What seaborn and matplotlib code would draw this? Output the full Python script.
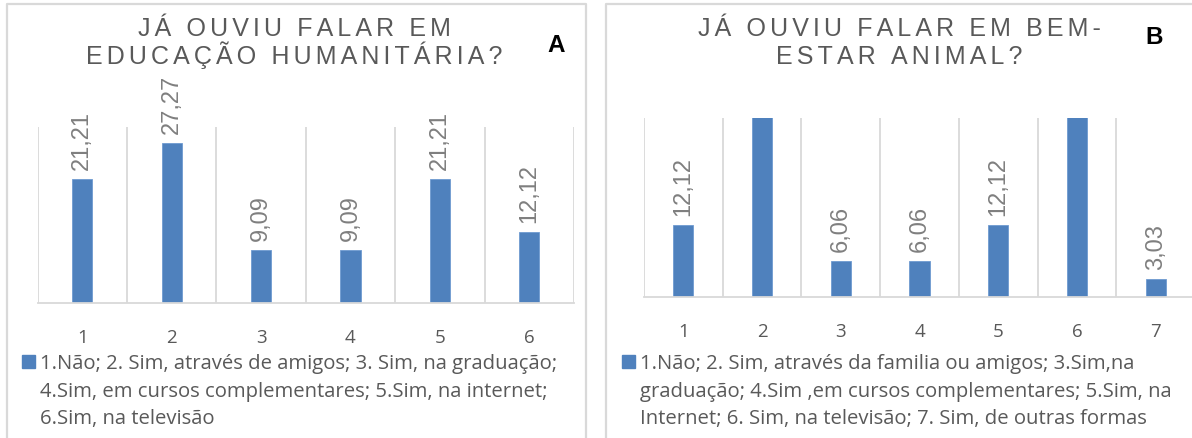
import numpy as np
import pandas as pd
import seaborn as sns
import matplotlib
matplotlib.use("Agg")
import matplotlib.pyplot as plt
from matplotlib.lines import Line2D
from matplotlib.patches import Rectangle

# ---------------- data ----------------
cats_a = ["1", "2", "3", "4", "5", "6"]
vals_a = [21.21, 27.27, 9.09, 9.09, 21.21, 12.12]
title_a = ["JÁ OUVIU FALAR EM", "EDUCAÇÃO HUMANITÁRIA?"]
legend_a = ["1.Não; 2. Sim, através de amigos; 3. Sim, na graduação;",
            "4.Sim, em cursos complementares; 5.Sim, na internet;",
            "6.Sim, na televisão"]

cats_b = ["1", "2", "3", "4", "5", "6", "7"]
vals_b = [12.12, 30.30, 6.06, 6.06, 12.12, 30.30, 3.03]
title_b = ["JÁ OUVIU FALAR EM BEM-", "ESTAR ANIMAL?"]
legend_b = ["1.Não; 2. Sim, através da familia ou amigos; 3.Sim,na",
            "graduação; 4.Sim ,em cursos complementares; 5.Sim, na",
            "Internet; 6. Sim, na televisão; 7. Sim, de outras formas"]

YMAX = 30
BLUE = "#4f81bd"
GRID = "#d9d9d9"
DARK = "#595959"
LBL = "#7f7f7f"
UIFONT = "Open Sans"

W, H = 1192, 439
fig = plt.figure(figsize=(W / 100, H / 100), dpi=100)
fig.patch.set_facecolor("white")


def fx(px):
    return px / W


def fy(py):
    return 1 - py / H


def spaced(s):
    return "\u2006".join(s)


def panel(rect, cats, vals, width):
    ax = fig.add_axes(rect)
    sns.barplot(x=cats, y=vals, color=BLUE, saturation=1, width=width, ax=ax,
                edgecolor="#6f9bd1", linewidth=0.6)
    n = len(cats)
    ax.set_xlim(-0.5, n - 0.5)
    ax.set_ylim(0, YMAX)
    ax.set_yticks([])
    ax.set_xticks(np.arange(-0.5, n), minor=True)
    ax.tick_params(axis="x", which="both", length=0)
    ax.tick_params(axis="x", which="major", pad=18, labelsize=13.5, labelcolor=DARK)
    for t in ax.get_xticklabels():
        t.set_family(UIFONT)
    ax.grid(False)
    ax.grid(which="minor", axis="x", color=GRID, lw=1.3)
    ax.set_axisbelow(True)
    for s in ["top", "left", "right"]:
        ax.spines[s].set_visible(False)
    ax.spines["bottom"].set_color(GRID)
    ax.spines["bottom"].set_linewidth(1.3)
    ax.set_xlabel("")
    ax.set_ylabel("")
    ax.patch.set_alpha(0)
    labels = [f"{v:.2f}".replace(".", ",") if v <= YMAX else "" for v in vals]
    ax.bar_label(ax.containers[0], labels=labels, rotation=90, padding=7,
                 fontsize=17, color=LBL, family="Liberation Sans")
    return ax


axA = panel([fx(37.5), fy(304), (574 - 37.5) / W, (304 - 128) / H], cats_a, vals_a, 0.225)
axB = panel([fx(644), fy(298), (1195 - 644) / W, (298 - 119) / H], cats_b, vals_b, 0.255)

# panel borders
bc = "#d9d9d9"
for xs, ys in [([7, 7, 586, 586], [445, 5, 5, 445]), ([606, 606, 1200], [445, 5, 5])]:
    fig.add_artist(Line2D([fx(x) for x in xs], [fy(y) for y in ys], color=bc, lw=1.6))

# titles
fam_t = ["Liberation Sans", "DejaVu Sans"]
for (cx, lines) in [(294, title_a), (899, title_b)]:
    for line, yb in zip(lines, (36, 64)):
        fig.text(fx(cx), fy(yb), spaced(line), ha="center", va="baseline",
                 fontsize=18, color=DARK, family=fam_t)

fig.text(fx(556), fy(46), "A", ha="center", va="center", fontsize=17.5,
         fontweight="bold", color="black", family="Liberation Sans")
fig.text(fx(1154), fy(38), "B", ha="center", va="center", fontsize=17.5,
         fontweight="bold", color="black", family="Liberation Sans")

# legends
for (sq_x, tx, lines) in [(22, 40, legend_a), (622, 640, legend_b)]:
    fig.add_artist(Rectangle((fx(sq_x), fy(369)), 13 / W, 13 / H, color=BLUE,
                             transform=fig.transFigure))
    for line, yb in zip(lines, (369, 397, 424)):
        fig.text(fx(tx), fy(yb), line, ha="left", va="baseline", fontsize=14.6,
                 color=DARK, family=UIFONT)

fig.savefig("out.png", dpi=100)
